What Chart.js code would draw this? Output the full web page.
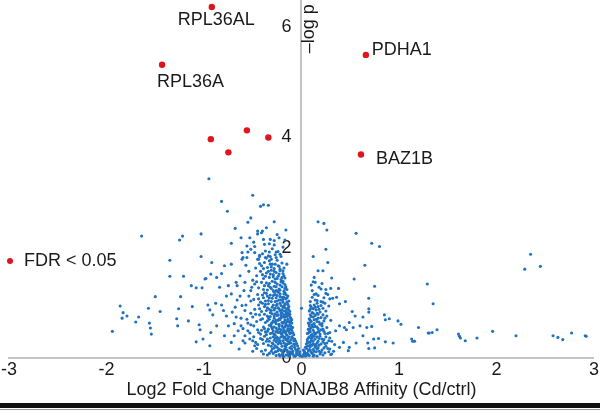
<!DOCTYPE html>
<html>
<head>
<meta charset="utf-8">
<script src="https://cdn.jsdelivr.net/npm/chart.js@4/dist/chart.umd.min.js"></script>
<style>
  html, body { margin: 0; padding: 0; background: #fff; overflow: hidden; }
  #page { position: relative; width: 600px; height: 414px; overflow: hidden; }
  #wrap { position: absolute; left: 0; top: -11px; width: 600px; height: 410px; }
  #rule { position: absolute; left: 0; top: 403px; width: 600px; height: 5px; background: #111; }
  #rule2 { position: absolute; left: 0; top: 409px; width: 600px; height: 1px; background: #9a9a9a; }
</style>
</head>
<body>
<div id="page">
  <div id="wrap"><canvas id="chart-canvas"></canvas></div>
  <div id="rule"></div>
  <div id="rule2"></div>
</div>
<script>
// Axis ticks
const X_TICKS = [-3, -2, -1, 0, 1, 2, 3];
const Y_TICKS = [0, 2, 4, 6];

// Significant proteins (FDR < 0.05)
const redLabels = ['RPL36AL', 'RPL36A', '', '', '', '', 'PDHA1', 'BAZ1B'];
const redX = [-0.92, -1.43, -0.93, -0.75, -0.56, -0.34, 0.66, 0.61];
const redY = [6.37, 5.32, 3.97, 3.73, 4.13, 4.00, 5.50, 3.69];

// Isolated proteins left of zero  [log2FC, -log p]
const sparseLeft = [
  [-0.95,3.25],[-0.50,2.95],[-0.82,2.84],[-0.76,2.66],[-0.42,2.75],[-0.39,2.78],[-0.34,2.77],[-0.52,2.54],
  [-0.55,2.46],[-0.28,2.47],[-0.45,2.30],[-0.41,2.27],[-0.16,2.32],[-0.53,2.18],[-0.39,2.15],[-0.32,2.15],
  [-0.28,2.13],[-0.23,2.18],[-0.72,2.08],[-0.49,2.10],[-0.38,2.06],[-0.61,1.91],[-0.52,1.97],[-0.48,1.91],
  [-0.43,1.86],[-0.32,1.84],[-0.26,1.92],[-0.61,1.79],[-0.56,1.82],[-0.44,1.79],[-0.37,1.82],[-0.31,1.79],
  [-0.22,1.88],[-0.15,1.70],[-0.79,1.67],[-0.72,1.70],[-0.92,1.73],
  [-1.64,2.21],[-1.25,2.14],[-1.22,2.21],[-1.03,2.25],[-1.35,1.77],[-1.03,1.84],[-1.35,1.48],[-1.21,1.48],
  [-0.98,1.44],[-0.93,1.52],[-1.13,1.31],[-1.08,1.27],[-1.02,1.27],[-1.50,1.11],[-1.24,1.11],[-1.12,0.93],
  [-1.86,0.94],[-1.57,0.90],[-1.83,0.82],[-1.79,0.76],[-1.84,0.72],[-1.67,0.74],[-1.45,0.84],[-1.26,0.89],
  [-1.70,0.65],[-1.56,0.63],[-1.55,0.54],[-1.54,0.43],[-1.28,0.71],[-1.27,0.58],[-1.16,0.67],[-1.94,0.48],
  [-1.05,0.60],[-1.04,0.51],[-1.08,0.29],[-1.01,0.34],
  [-0.99,1.43],[-0.87,1.46],[-0.82,1.53],[-0.84,1.28],[-0.75,1.31],[-0.72,1.16],[-0.67,1.37],[-0.96,0.96],
  [-0.94,0.87],[-0.91,0.78],[-0.88,0.99],[-0.82,0.96],[-0.80,0.86],[-0.77,0.76],[-0.68,0.92],[-0.67,0.74],
  [-0.62,0.58],[-0.58,0.86],[-0.94,0.22],[-0.93,0.46],[-0.87,0.58],[-0.79,0.40],[-0.75,0.58],[-0.72,0.28],
  [-0.65,0.49],[-0.69,0.40],[-0.53,0.34],[-0.48,0.22],[-0.55,0.49],
  [-0.62,0.72],[-0.66,1.05],[-0.59,1.22],[-0.63,1.49],[-0.57,1.68],[-0.61,0.95],[-0.69,0.62],[-0.58,0.40],
  [-0.64,0.16],[-0.55,1.92],[-0.60,1.82],[-0.66,1.31],[-0.71,0.83],[-0.77,1.12],[-0.56,2.03],[-0.45,2.25],
  [-0.36,2.36],[-0.28,2.05],[-0.25,2.24],[-0.19,2.01],[-0.17,2.14],[-0.48,2.02],[-0.33,2.07],[-0.40,2.30],
  [-0.62,2.18],[-0.68,2.35],
  [-0.57,0.96],[-0.60,0.31],[-0.52,1.03],[-0.56,0.70],[-0.51,1.28],[-0.54,1.57],[-0.49,0.38],[-0.63,1.12],
  [-0.52,0.60],[-0.47,1.63],[-0.58,1.37],[-0.50,0.12],
];

// Dense cloud just left of zero
const denseLeft = [
  [-0.01,0.03],[-0.03,0.05],[-0.02,0.11],[-0.05,0.08],[-0.06,0.15],[-0.08,0.04],[-0.09,0.12],[-0.11,0.07],
  [-0.12,0.18],[-0.14,0.10],[-0.16,0.05],[-0.17,0.16],[-0.19,0.09],[-0.21,0.14],[-0.23,0.06],[-0.25,0.19],
  [-0.27,0.11],[-0.30,0.16],[-0.33,0.08],[-0.37,0.14],[-0.41,0.12],[-0.46,0.17],
  [-0.04,0.22],[-0.06,0.30],[-0.08,0.25],[-0.09,0.36],[-0.10,0.21],[-0.12,0.29],[-0.13,0.38],[-0.15,0.24],
  [-0.16,0.33],[-0.18,0.27],[-0.19,0.39],[-0.20,0.21],[-0.22,0.31],[-0.24,0.25],[-0.25,0.37],[-0.27,0.22],
  [-0.28,0.32],[-0.30,0.27],[-0.32,0.36],[-0.34,0.23],[-0.36,0.30],[-0.39,0.26],[-0.42,0.35],[-0.45,0.24],
  [-0.50,0.31],[-0.58,0.27],
  [-0.08,0.42],[-0.10,0.50],[-0.11,0.57],[-0.12,0.44],[-0.14,0.53],[-0.15,0.41],[-0.16,0.59],[-0.17,0.47],
  [-0.19,0.55],[-0.20,0.43],[-0.21,0.51],[-0.23,0.58],[-0.24,0.46],[-0.26,0.54],[-0.27,0.41],[-0.29,0.49],
  [-0.31,0.57],[-0.32,0.44],[-0.34,0.52],[-0.37,0.47],[-0.39,0.56],[-0.42,0.43],[-0.45,0.51],[-0.49,0.58],
  [-0.53,0.45],[-0.60,0.53],
  [-0.10,0.63],[-0.11,0.72],[-0.12,0.79],[-0.13,0.66],[-0.15,0.75],[-0.16,0.62],[-0.17,0.69],[-0.18,0.78],
  [-0.20,0.64],[-0.21,0.73],[-0.23,0.61],[-0.24,0.68],[-0.25,0.77],[-0.27,0.65],[-0.28,0.72],[-0.30,0.80],
  [-0.31,0.62],[-0.33,0.70],[-0.35,0.76],[-0.37,0.64],[-0.40,0.71],[-0.43,0.78],[-0.46,0.66],[-0.50,0.74],
  [-0.55,0.63],
  [-0.12,0.84],[-0.13,0.93],[-0.14,0.81],[-0.15,0.88],[-0.17,0.97],[-0.18,0.85],[-0.19,0.92],[-0.21,0.82],
  [-0.22,0.99],[-0.23,0.89],[-0.25,0.83],[-0.26,0.95],[-0.28,0.87],[-0.30,0.92],[-0.32,0.82],[-0.34,0.98],
  [-0.36,0.86],[-0.38,0.93],[-0.41,0.84],[-0.44,0.96],[-0.48,0.88],[-0.52,0.81],
  [-0.13,1.03],[-0.14,1.12],[-0.16,1.07],[-0.17,1.18],[-0.19,1.01],[-0.20,1.10],[-0.22,1.16],[-0.23,1.05],
  [-0.25,1.13],[-0.27,1.02],[-0.28,1.19],[-0.30,1.08],[-0.32,1.14],[-0.34,1.04],[-0.36,1.17],[-0.39,1.09],
  [-0.42,1.01],[-0.45,1.15],[-0.49,1.06],[-0.54,1.12],
  [-0.15,1.24],[-0.17,1.33],[-0.18,1.21],[-0.20,1.29],[-0.21,1.38],[-0.23,1.25],[-0.25,1.34],[-0.26,1.22],
  [-0.28,1.30],[-0.30,1.39],[-0.31,1.26],[-0.33,1.35],[-0.35,1.23],[-0.38,1.31],[-0.41,1.37],[-0.44,1.27],
  [-0.48,1.34],[-0.52,1.22],
  [-0.17,1.45],[-0.19,1.53],[-0.21,1.42],[-0.22,1.58],[-0.24,1.48],[-0.26,1.55],[-0.27,1.43],[-0.29,1.51],
  [-0.31,1.59],[-0.33,1.46],[-0.36,1.54],[-0.39,1.44],[-0.42,1.57],[-0.46,1.49],[-0.50,1.41],
  [-0.18,1.63],[-0.20,1.72],[-0.23,1.66],[-0.25,1.77],[-0.28,1.62],[-0.30,1.70],[-0.33,1.76],[-0.35,1.64],
  [-0.38,1.73],[-0.41,1.67],[-0.45,1.79],
  [-0.21,1.84],[-0.24,1.93],[-0.27,1.87],[-0.30,1.98],[-0.34,1.85],[-0.37,1.94],[-0.40,1.89],
  [-0.02,0.07],[-0.04,0.14],[-0.07,0.02],[-0.07,0.19],[-0.10,0.10],[-0.13,0.03],[-0.15,0.14],[-0.18,0.02],
  [-0.20,0.12],[-0.22,0.03],[-0.24,0.13],[-0.26,0.04],[-0.29,0.08],[-0.35,0.05],
  [-0.05,0.26],[-0.07,0.34],[-0.11,0.33],[-0.13,0.26],[-0.14,0.35],[-0.17,0.22],[-0.17,0.37],[-0.21,0.26],
  [-0.23,0.35],[-0.26,0.29],[-0.29,0.38],[-0.31,0.21],[-0.35,0.34],[-0.38,0.39],
  [-0.09,0.46],[-0.11,0.53],[-0.13,0.48],[-0.14,0.58],[-0.16,0.44],[-0.18,0.51],[-0.20,0.58],[-0.22,0.47],
  [-0.25,0.50],[-0.28,0.56],[-0.30,0.45],[-0.33,0.59],[-0.36,0.42],[-0.41,0.50],
  [-0.11,0.67],[-0.12,0.75],[-0.14,0.70],[-0.16,0.79],[-0.18,0.65],[-0.19,0.74],[-0.22,0.69],[-0.24,0.78],
  [-0.26,0.62],[-0.29,0.67],[-0.32,0.75],[-0.35,0.67],[-0.38,0.79],
  [-0.13,0.87],[-0.14,0.97],[-0.16,0.84],[-0.17,0.91],[-0.20,0.87],[-0.21,0.95],[-0.24,0.91],[-0.27,0.80],
  [-0.29,0.96],[-0.31,0.86],[-0.35,0.91],[-0.40,0.99],
  [-0.15,1.01],[-0.16,1.15],[-0.18,1.10],[-0.21,1.05],[-0.24,1.19],[-0.26,1.09],[-0.29,1.13],[-0.33,1.09],
  [-0.37,1.03],[-0.40,1.14],
  [-0.16,1.29],[-0.19,1.36],[-0.22,1.32],[-0.24,1.21],[-0.27,1.37],[-0.32,1.28],[-0.36,1.36],
  [-0.18,1.49],[-0.20,1.46],[-0.23,1.52],[-0.28,1.57],[-0.32,1.52],[-0.37,1.48],
  [-0.22,1.61],[-0.27,1.70],[-0.31,1.65],[-0.36,1.81],[-0.43,1.71],
  [-0.03,0.17],[-0.05,0.11],[-0.06,0.04],[-0.09,0.08],[-0.10,0.16],[-0.12,0.11],[-0.14,0.06],[-0.16,0.19],
  [-0.18,0.14],[-0.20,0.06],[-0.23,0.16],[-0.26,0.11],[-0.28,0.18],[-0.31,0.12],[-0.39,0.07],
  [-0.07,0.24],[-0.08,0.31],[-0.10,0.38],[-0.11,0.27],[-0.14,0.30],[-0.16,0.25],[-0.18,0.36],[-0.19,0.31],
  [-0.21,0.38],[-0.23,0.28],[-0.25,0.32],[-0.27,0.36],[-0.29,0.25],[-0.33,0.30],[-0.40,0.33],[-0.47,0.28],
  [-0.09,0.55],[-0.11,0.45],[-0.12,0.59],[-0.13,0.52],[-0.15,0.49],[-0.17,0.56],[-0.19,0.47],[-0.21,0.44],
  [-0.23,0.53],[-0.26,0.47],[-0.28,0.43],[-0.30,0.53],[-0.35,0.48],[-0.38,0.53],[-0.44,0.46],
  [-0.10,0.69],[-0.12,0.64],[-0.14,0.78],[-0.15,0.66],[-0.17,0.74],[-0.19,0.63],[-0.21,0.77],[-0.23,0.71],
  [-0.26,0.68],[-0.28,0.76],[-0.30,0.64],[-0.34,0.73],[-0.42,0.69],[-0.47,0.79],
  [-0.14,0.90],[-0.15,0.82],[-0.18,0.94],[-0.20,0.81],[-0.22,0.86],[-0.25,0.97],[-0.27,0.90],[-0.33,0.88],
  [-0.37,0.97],[-0.43,0.89],
  [-0.15,1.09],[-0.18,1.16],[-0.19,1.06],[-0.22,1.11],[-0.25,1.03],[-0.27,1.15],[-0.31,1.02],[-0.35,1.12],
  [-0.38,1.18],[-0.44,1.07],
  [-0.17,1.26],[-0.19,1.39],[-0.22,1.23],[-0.26,1.29],[-0.29,1.22],[-0.34,1.31],[-0.39,1.24],[-0.46,1.38],
  [-0.19,1.58],[-0.25,1.44],[-0.29,1.47],[-0.34,1.57],[-0.40,1.51],
  [-0.24,1.67],[-0.32,1.70],[-0.39,1.62],[-0.26,1.82],[-0.33,1.92],[-0.43,1.84],
];

// Isolated proteins right of zero
const sparseRight = [
  [0.17,2.47],[0.23,2.44],[0.26,2.32],[0.56,2.26],[0.72,2.08],[0.80,2.02],[0.25,1.97],[0.12,1.84],
  [0.27,1.73],[0.65,1.68],[0.17,1.58],[0.22,1.58],[0.54,1.43],[0.13,1.46],[0.31,1.45],[0.10,1.32],
  [0.14,1.37],[0.75,1.30],[0.20,1.25],[0.25,1.24],[0.30,1.26],[0.38,1.26],[0.15,1.16],[0.25,1.17],
  [0.69,1.08],[0.29,1.07],[0.32,1.08],[0.36,1.10],[0.45,1.02],[0.16,1.04],[0.22,1.01],[0.39,0.98],
  [0.00,0.90],[0.09,0.95],[0.69,0.89],[0.69,0.83],[0.52,0.84],[0.85,0.78],[0.90,0.71],[0.86,0.69],
  [0.99,0.67],[1.02,0.61],[0.63,0.74],[0.55,0.76],[0.72,0.57],[0.67,0.55],[0.60,0.58],[0.53,0.55],
  [0.44,0.55],[0.46,0.51],[0.49,0.64],[0.39,0.58],[0.35,0.49],[0.63,0.40],[0.74,0.34],[0.79,0.35],
  [0.86,0.29],[0.94,0.27],[0.68,0.27],[0.69,0.17],[0.75,0.18],[0.56,0.27],[0.49,0.19],[0.48,0.13],
  [0.43,0.28],[0.39,0.19],[0.29,0.16],[0.31,0.07],[1.13,0.34],[1.14,0.30],[1.16,0.30],
  [1.29,1.34],[1.35,0.98],[1.20,0.55],[1.30,0.45],[1.31,0.45],[1.34,0.46],[1.39,0.51],[1.61,0.43],
  [1.62,0.39],[1.63,0.36],[1.68,0.31],[1.80,0.36],[1.96,0.48],[2.20,0.40],[2.29,1.61],[2.35,1.88],
  [2.45,1.66],[2.58,0.40],[2.63,0.37],[2.68,0.33],[2.77,0.45],[2.91,0.40],[2.92,0.39],
];

// Dense cloud just right of zero
const denseRight = [
  [0.01,0.02],[0.02,0.06],[0.03,0.12],[0.04,0.03],[0.05,0.17],[0.06,0.08],[0.07,0.13],[0.08,0.04],
  [0.09,0.20],[0.10,0.10],[0.12,0.15],[0.13,0.05],[0.15,0.11],[0.17,0.18],[0.19,0.07],[0.21,0.14],
  [0.24,0.09],[0.27,0.17],[0.33,0.12],
  [0.05,0.25],[0.06,0.33],[0.07,0.28],[0.08,0.38],[0.09,0.24],[0.10,0.31],[0.11,0.37],[0.12,0.26],
  [0.14,0.34],[0.15,0.22],[0.17,0.30],[0.19,0.39],[0.20,0.25],[0.23,0.33],[0.26,0.27],[0.29,0.36],
  [0.34,0.24],
  [0.06,0.44],[0.07,0.52],[0.08,0.58],[0.09,0.47],[0.10,0.55],[0.11,0.42],[0.12,0.50],[0.14,0.57],
  [0.15,0.45],[0.17,0.53],[0.19,0.43],[0.21,0.58],[0.23,0.48],[0.26,0.55],[0.29,0.46],
  [0.07,0.63],[0.08,0.71],[0.09,0.78],[0.10,0.66],[0.12,0.74],[0.13,0.62],[0.15,0.70],[0.17,0.79],
  [0.18,0.65],[0.20,0.73],[0.23,0.67],[0.26,0.76],[0.30,0.68],
  [0.08,0.85],[0.10,0.92],[0.11,0.82],[0.13,0.96],[0.15,0.87],[0.17,0.93],[0.19,0.83],[0.22,0.90],
  [0.25,0.85],[0.28,0.94],
  [0.09,1.02],[0.11,1.10],[0.14,1.05],[0.17,1.13],[0.20,1.02],[0.23,1.09],[0.27,1.15],
  [0.11,1.22],[0.18,1.28],[0.12,1.38],[0.21,1.35],
  [0.03,0.09],[0.05,0.04],[0.06,0.21],[0.08,0.15],[0.11,0.08],[0.14,0.19],[0.16,0.03],[0.18,0.12],
  [0.22,0.05],[0.25,0.21],[0.30,0.06],
  [0.07,0.36],[0.09,0.29],[0.11,0.23],[0.13,0.39],[0.16,0.27],[0.18,0.35],[0.22,0.29],[0.25,0.38],
  [0.31,0.30],
  [0.08,0.49],[0.10,0.41],[0.13,0.46],[0.16,0.56],[0.18,0.48],[0.22,0.52],[0.27,0.44],
  [0.09,0.68],[0.11,0.60],[0.14,0.77],[0.16,0.66],[0.21,0.62],[0.24,0.72],
  [0.12,0.89],[0.16,0.81],[0.20,0.95],[0.24,0.99],
  [0.02,0.14],[0.04,0.19],[0.04,0.08],[0.07,0.06],[0.09,0.14],[0.12,0.03],[0.13,0.12],[0.16,0.16],
  [0.20,0.10],[0.23,0.18],[0.28,0.11],
  [0.06,0.29],[0.08,0.22],[0.10,0.35],[0.12,0.31],[0.14,0.24],[0.16,0.38],[0.18,0.23],[0.21,0.34],
  [0.24,0.26],[0.28,0.31],
  [0.07,0.45],[0.09,0.53],[0.12,0.56],[0.14,0.43],[0.17,0.47],[0.20,0.51],[0.24,0.44],
  [0.08,0.62],[0.10,0.75],[0.13,0.69],[0.17,0.72],[0.19,0.61],[0.22,0.78],
  [0.09,0.88],[0.12,0.81],[0.14,0.92],[0.18,0.88],[0.13,1.15],[0.16,0.99],
];

const BLUE = '#1f72c0';
const RED = '#e0141e';
const FONT = { family: '"Liberation Sans", Arial, sans-serif', size: 18 };
const TEXT = '#1a1a1a';
const AXIS_GREY = '#c4c4c4';

const toPoints = pairs => pairs.map(([x, y]) => ({ x, y }));

/**
 * Draws the gene names beside the red points, the "-log p" title on the
 * vertical axis and the small FDR legend.
 */
const annotations = {
  id: 'annotations',
  afterDatasetsDraw(chart, args, opts) {
    const { ctx, scales: { x, y } } = chart;
    ctx.save();
    ctx.font = `${FONT.size}px ${FONT.family}`;
    ctx.fillStyle = TEXT;
    ctx.textBaseline = 'middle';
    ctx.textAlign = 'left';

    redLabels.forEach((name, i) => {
      if (!name) return;
      const off = opts.offsets[name] || { dx: 6, dy: 0 };
      ctx.fillText(name, x.getPixelForValue(redX[i]) + off.dx, y.getPixelForValue(redY[i]) + off.dy);
    });

    // legend, in page coordinates
    const lx = opts.legend.x;
    const ly = opts.legend.y - chart.canvas.getBoundingClientRect().top;
    ctx.fillStyle = RED;
    ctx.beginPath();
    ctx.arc(lx, ly, 3, 0, Math.PI * 2);
    ctx.fill();
    ctx.fillStyle = TEXT;
    ctx.fillText('FDR < 0.05', lx + 14, ly);

    // y title, rotated, sitting right of the axis near the top
    ctx.translate(x.getPixelForValue(0) + 8, y.top + 29);
    ctx.rotate(-Math.PI / 2);
    ctx.textAlign = 'center';
    ctx.fillText('\u2013log p', 0, 0);
    ctx.restore();
  },
};

const canvas = document.getElementById('chart-canvas');
new Chart(canvas, {
  type: 'scatter',
  data: {
    datasets: [
      {
        label: 'FDR < 0.05',
        data: redX.map((x, i) => ({ x, y: redY[i] })),
        backgroundColor: RED,
        borderWidth: 0,
        pointRadius: 3.2,
      },
      {
        label: 'proteins',
        data: toPoints([...sparseLeft, ...denseLeft, ...sparseRight, ...denseRight]),
        backgroundColor: BLUE,
        borderWidth: 0,
        pointRadius: 1.55,
      },
    ],
  },
  options: {
    responsive: true,
    maintainAspectRatio: false,
    animation: false,
    layout: { padding: 0 },
    plugins: {
      legend: { display: false },
      tooltip: { enabled: false },
      annotations: {
        offsets: {
          RPL36AL: { dx: -34, dy: 13 },
          RPL36A: { dx: -5, dy: 17 },
          PDHA1: { dx: 6, dy: -5 },
          BAZ1B: { dx: 15, dy: 4 },
        },
        legend: { x: 10, y: 261 },
      },
    },
    scales: {
      x: {
        type: 'linear',
        min: -3,
        max: 3,
        afterBuildTicks: s => { s.ticks = X_TICKS.map(value => ({ value })); },
        grid: { display: false, drawTicks: false },
        border: { color: AXIS_GREY, width: 2 },
        ticks: { color: TEXT, font: FONT, padding: 1, maxRotation: 0 },
        title: {
          display: true,
          text: 'Log2 Fold Change DNAJB8 Affinity (Cd/ctrl)',
          color: TEXT,
          font: FONT,
          padding: { top: -2, bottom: -2 },
        },
      },
      y: {
        type: 'linear',
        min: 0,
        max: 6.5,
        position: { x: 0 },
        afterBuildTicks: s => { s.ticks = Y_TICKS.map(value => ({ value })); },
        grid: { display: false, drawTicks: false },
        border: { color: AXIS_GREY, width: 2 },
        // labels are right-aligned on the axis line; two spaces keep them clear of it
        ticks: { color: TEXT, font: FONT, padding: 0, callback: v => v + '  ' },
      },
    },
  },
  plugins: [annotations],
});
</script>
</body>
</html>
